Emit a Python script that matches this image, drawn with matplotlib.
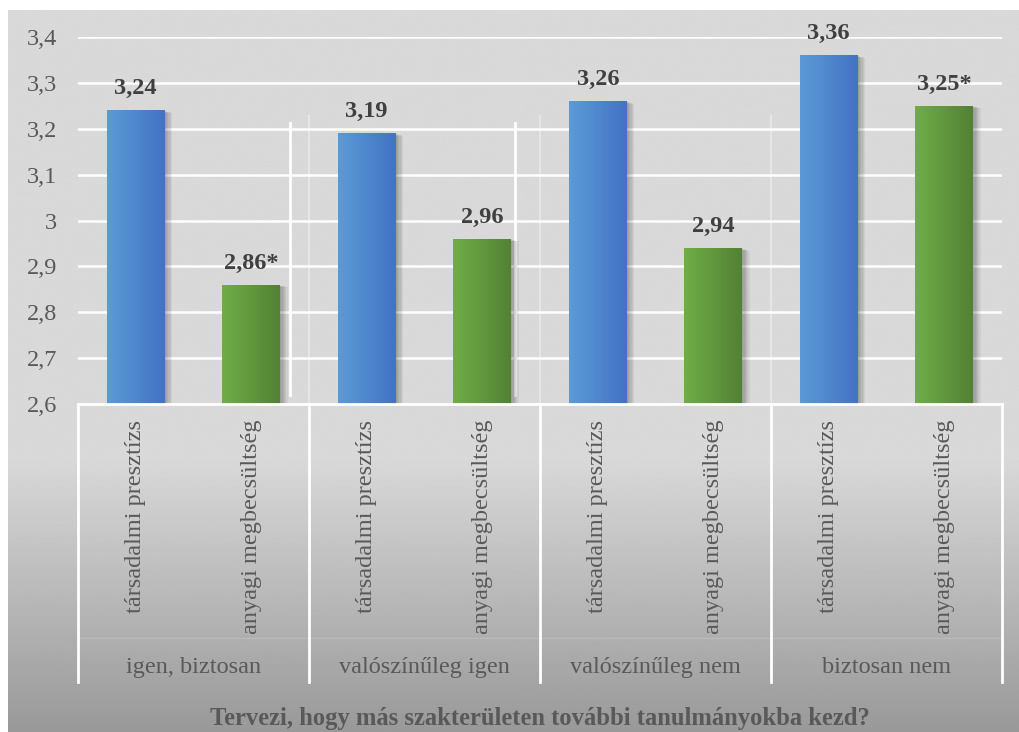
import numpy as np
import matplotlib
matplotlib.use("Agg")
import matplotlib.pyplot as plt
from matplotlib.colors import LinearSegmentedColormap
from matplotlib.transforms import blended_transform_factory, offset_copy
from matplotlib.ticker import FuncFormatter, MultipleLocator

plt.rcParams["font.family"] = ["Liberation Serif", "DejaVu Serif"]

# adatok
csoportok = ["igen, biztosan", "valószínűleg igen", "valószínűleg nem", "biztosan nem"]
alkategoriak = ["társadalmi presztízs", "anyagi megbecsültség"]
ertekek = [3.24, 2.86, 3.19, 2.96, 3.26, 2.94, 3.36, 3.25]
cimkek = ["3,24", "2,86*", "3,19", "2,96", "3,26", "2,94", "3,36", "3,25*"]
tengely_cim = "Tervezi, hogy más szakterületen további tanulmányokba kezd?"

kek = LinearSegmentedColormap.from_list("kek", ["#5b9bd5", "#4472c4"])
zold = LinearSegmentedColormap.from_list("zold", ["#70ad47", "#538135"])

fig = plt.figure(figsize=(10.19, 7.32), dpi=100)

# háttér színátmenet
hatter = fig.add_axes([8 / 1019, 0, 1 - 8 / 1019, 1 - 10 / 732], zorder=0)
t = np.linspace(0, 1, 400)
szin = np.where(t < 0.62, 217, 217 - (t - 0.62) / 0.38 * 64)
hatter.imshow(szin[:, None], cmap="gray", vmin=0, vmax=255, aspect="auto",
              extent=[0, 1, 0, 1], origin="upper")
hatter.axis("off")

ax = fig.add_axes([78 / 1019, 1 - 404 / 732, (1002 - 78) / 1019, (404 - 37) / 732], zorder=1)
ax.set_facecolor("none")
for s in ax.spines.values():
    s.set_visible(False)

x = np.arange(len(ertekek))
ymin, ymax = 2.6, 3.4
ax.set_xlim(-0.5, len(ertekek) - 0.5)
ax.set_ylim(ymin, ymax)
ax.yaxis.set_major_locator(MultipleLocator(0.1))
ax.yaxis.set_major_formatter(FuncFormatter(lambda v, p: ("%g" % round(v, 1)).replace(".", ",")))
ax.tick_params(axis="y", length=0, pad=15, labelsize=17.5, labelcolor="#595959")
ax.set_xticks([])
ax.grid(axis="y", color="white", linewidth=1.8)
ax.set_axisbelow(True)

trans = blended_transform_factory(ax.transData, ax.transAxes)

# halvány függőleges vonalak a csoportok között
for i in range(1, len(csoportok)):
    ax.plot([2 * i - 0.5] * 2, [0, 0.785], transform=trans, color="white",
            lw=1.5, alpha=0.35, zorder=1)
for xp in [1.335, 3.285]:
    ax.plot([xp, xp], [0.024, 0.765], transform=trans, color="white", lw=2, zorder=1)

oszlopok = ax.bar(x, ertekek, width=0.5, color="none", zorder=3)
for i, b in enumerate(oszlopok):
    x0, w, h = b.get_x(), b.get_width(), b.get_height()
    # árnyék
    for k in range(1, 7):
        arny = plt.Rectangle((x0, ymin), w, h - ymin, facecolor="black", alpha=0.05,
                             edgecolor="none", zorder=2,
                             transform=offset_copy(ax.transData, fig, x=k * 0.9, y=-k * 0.3, units="points"))
        ax.add_patch(arny)
    cm = kek if i % 2 == 0 else zold
    im = ax.imshow(np.linspace(0, 1, 100)[None, :], cmap=cm, aspect="auto",
                   extent=[x0, x0 + w, ymin, h], zorder=4)
    im.set_clip_path(b)
    ax.annotate(cimkek[i], (b.get_x() + w / 2, h), xytext=(0, 8), textcoords="offset points",
                ha="center", va="bottom", fontsize=17.5, fontweight="bold", color="#404040",
                annotation_clip=False, zorder=5)
ax.set_xlim(-0.5, len(ertekek) - 0.5)
ax.set_ylim(ymin, ymax)

# kategória tengely
ax.plot([-0.5, len(ertekek) - 0.5], [0, 0], transform=trans, color="white", lw=2,
        clip_on=False, zorder=6)
for i in range(len(csoportok) + 1):
    ax.plot([2 * i - 0.5] * 2, [0, -0.7575], transform=trans, color="white", lw=2,
            clip_on=False, zorder=6)
ax.plot([-0.5, len(ertekek) - 0.5], [-0.638, -0.638], transform=trans, color="white",
        lw=1, alpha=0.15, clip_on=False)

for i in x:
    ax.text(i, -0.043, alkategoriak[i % 2], transform=trans, rotation=90, ha="center",
            va="top", fontsize=17.5, color="#595959")
for j, c in enumerate(csoportok):
    ax.text(2 * j + 0.5, -0.719, c, transform=trans, ha="center", va="center",
            fontsize=17.5, color="#595959")
ax.text(0.5, -0.856, tengely_cim, transform=ax.transAxes, ha="center", va="center",
        fontsize=17.7, fontweight="bold", color="#595959")

fig.savefig("out.png", dpi=100)
